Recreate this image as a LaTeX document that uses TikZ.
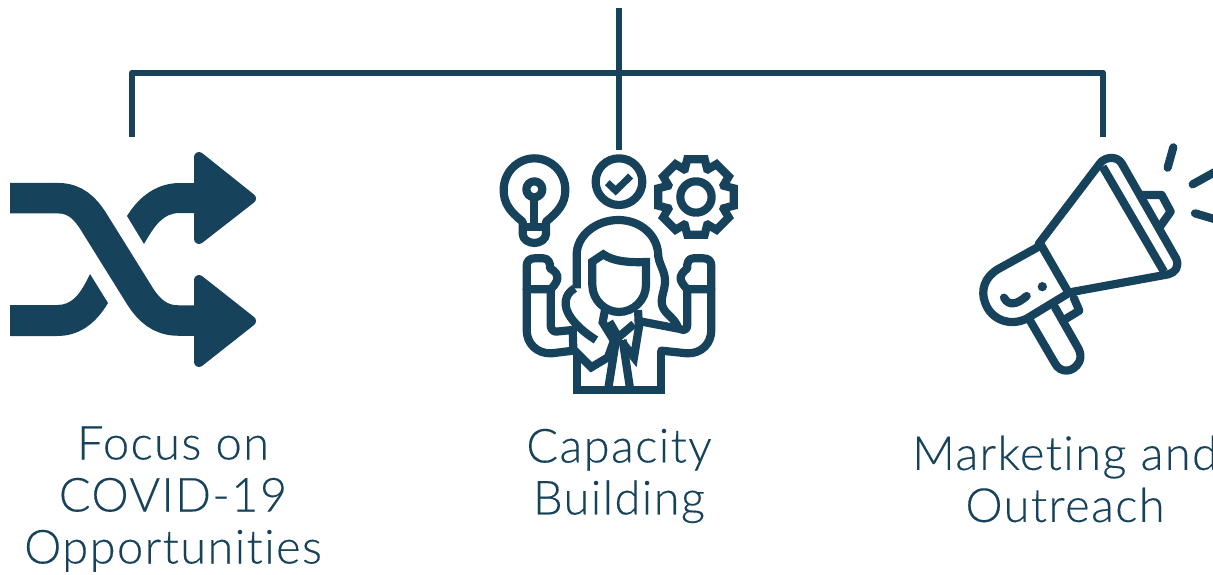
\documentclass[tikz,border=0pt]{standalone}
\usepackage{fontspec}
\setmainfont{Lato}[UprightFont=* Light,LetterSpace=3,Ligatures=NoCommon,FakeBold=0.25]
\definecolor{navy}{HTML}{16425B}
\tikzset{
  bracket/.style={draw=navy,line width=6pt,line cap=round,line join=round},
  icon/.style={draw=navy,line width=8.2pt,line join=round,line cap=round},
  caption/.style={text=navy,align=center,font=\fontsize{47}{52}\selectfont,inner sep=0pt},
  zoomed/.style={shift={(#1)},x=0.3333pt,y=-0.3333pt}
}
\begin{document}
\begin{tikzpicture}[x=1pt,y=-1pt]
\useasboundingbox (0,0) rectangle (1213,574);
% connectors
\coordinate (top) at (619,8);
\coordinate (mid) at (619,72);
\coordinate (cap) at (619,150);
\coordinate (lcorner) at (132,72.5);
\coordinate (rcorner) at (1103,72.5);
\coordinate (lend) at (132,137);
\coordinate (rend) at (1103,137);
\draw[bracket,line cap=butt] (top) -- (cap);
\draw[bracket,line cap=butt] (lend) -- (lcorner) -- (rcorner) -- (rend);
% shuffle icon
\draw[navy,line width=30.5pt] (10,198.2) -- (58,198.2) .. controls (75,198.2) and (85,208) .. (93.5,221.5) -- (140.5,297) .. controls (149,310) and (160,320.5) .. (178,320.5) -- (200,320.5);
\fill[navy] (127,216) .. controls (140,195) and (158,183) .. (180,183) -- (200,183) -- (200,213) -- (180,213) .. controls (163,213) and (155,225) .. (144,244) -- cycle;
\fill[navy] (90,274) -- (108,303) .. controls (95,325) and (78,336) .. (57,336) -- (10,336) -- (10,305) -- (57,305) .. controls (72,305) and (80,295) .. (90,274) -- cycle;
\filldraw[navy,line width=10pt,line join=round] (199,157) -- (251,198.5) -- (199,239) -- cycle;
\filldraw[navy,line width=10pt,line join=round] (199,280) -- (251,321) -- (199,362) -- cycle;
% capacity icon
\begin{scope}[zoomed={490,140}]
  % bulb
  \draw[icon] (98,245) .. controls (60,215) and (41,190) .. (41,150) .. controls (41,95) and (85,55) .. (133,55) .. controls (182,55) and (226,95) .. (226,150) .. controls (226,190) and (205,215) .. (168,245) -- (168,282) .. controls (168,298) and (150,309) .. (133,309) .. controls (116,309) and (98,298) .. (98,282) -- cycle;
  \draw[icon,line cap=butt] (98,262) -- (168,262);
  \draw[icon] (133,148) circle (24);
  \draw[icon,line cap=butt] (133,172) -- (133,262);
  % check
  \draw[icon] (387,125) circle (70);
  \draw[icon,line width=7pt,line cap=butt,line join=miter] (352,128) -- (377,152) -- (422,108);
  % gear
  \begin{scope}[shift={(618,171)}]
    \draw[icon,line join=miter] (-22:90) \foreach \a in {0,45,...,315}{ -- (\a-22:90) -- (\a-13:116) -- (\a+13:116) -- (\a+22:90)} -- cycle;
    \draw[icon] (0,0) circle (47);
  \end{scope}
  % hair
  \draw[icon,line cap=butt] (260,445) -- (260,345) .. controls (260,285) and (320,240) .. (385,240) .. controls (450,240) and (505,285) .. (505,350) .. controls (510,380) and (527,395) .. (525,430) .. controls (522,460) and (508,480) .. (520,505) .. controls (530,525) and (555,535) .. (565,565);
  \draw[icon,line cap=butt] (254,445) .. controls (230,460) and (225,480) .. (227,495) .. controls (230,530) and (270,570) .. (318,600);
  % face
  \draw[icon,line join=miter] (307,365) -- (340,343) .. controls (370,365) and (420,368) .. (468,366) -- (468,435) .. controls (468,480) and (430,516) .. (387,516) .. controls (345,516) and (307,480) .. (307,435) -- cycle;
  % collar and tie
  \draw[icon,line cap=butt,line join=miter] (345,510) -- (338,547) -- (372,602) -- (354,652) -- (304,682) -- (250,628) -- (248,570);
  \draw[icon,line cap=butt,line join=miter] (358,545) -- (385,592) -- (432,552);
  \draw[icon,line cap=butt,line join=miter] (444,510) -- (447,560) -- (432,652) -- (395,605);
  \draw[icon,line cap=butt] (378,600) -- (355,745);
  \draw[icon,line cap=butt] (398,600) -- (420,745);
  % body
  \draw[icon,line cap=butt,line join=miter] (260,640) -- (260,749) -- (514,749) -- (514,632);
  % right arm
  \draw[icon] (445,543) -- (570,567) .. controls (585,575) and (592,565) .. (592,555) -- (592,448) -- (664,448) -- (664,378) .. controls (664,362) and (655,355) .. (640,355) -- (610,355) .. controls (595,355) and (590,370) .. (592,385) .. controls (580,395) and (570,405) .. (572,418) .. controls (575,430) and (585,440) .. (592,448);
  \draw[icon] (514,632) -- (590,640) .. controls (635,642) and (664,610) .. (664,570) -- (664,448);
  % left arm
  \draw[icon] (248,570) -- (198,575) .. controls (188,575) and (182,565) .. (182,555) -- (182,448) -- (110,448) -- (110,378) .. controls (110,362) and (120,355) .. (134,355) -- (160,355) .. controls (175,355) and (182,370) .. (180,385) .. controls (195,392) and (205,405) .. (202,418) .. controls (198,430) and (190,440) .. (182,448);
  \draw[icon] (250,632) -- (185,640) .. controls (140,642) and (110,610) .. (110,570) -- (110,448);
\end{scope}
% megaphone
\begin{scope}[zoomed={960,130}]
  \draw[icon] (236,342) -- (420,100) .. controls (432,82) and (470,75) .. (485,100) -- (648,385) .. controls (660,410) and (645,428) .. (625,433) -- (330,487);
  \draw[icon,line cap=butt] (428,110) -- (612,425);
  \draw[icon,line cap=butt] (243,345) -- (325,487);
  \draw[icon] (236,350) -- (115,417) .. controls (75,440) and (60,480) .. (76,520) .. controls (95,570) and (150,590) .. (200,566) -- (325,490);
  \fill[navy] (247,470) circle (14);
  \draw[icon] (132,503) .. controls (145,528) and (170,525) .. (200,498);
  \draw[icon] (209,570) -- (285,700) .. controls (300,730) and (340,730) .. (358,695) .. controls (365,680) and (360,665) .. (355,655) -- (285,532);
  \draw[icon] (342,505) -- (358,542) -- (315,568);
  \draw[icon] (545,195) -- (605,195) -- (632,245) -- (600,290);
  \draw[icon] (640,52) -- (623,113);
  \draw[icon] (698,163) -- (790,112);
  \draw[icon] (705,250) -- (790,275);
\end{scope}
% captions
\node[caption] (focus) at (173,499) {Focus on\\COVID-19\\Opportunities};
\node[caption] (capacity) at (619,476) {Capacity\\Building};
\node[caption] (marketing) at (1065,479) {Marketing and\\Outreach};
\end{tikzpicture}
\end{document}
